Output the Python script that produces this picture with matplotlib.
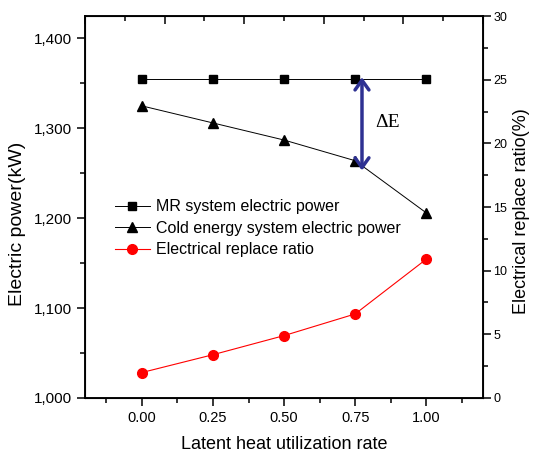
import matplotlib.pyplot as plt
from matplotlib.ticker import FuncFormatter, MultipleLocator

plt.rcParams["font.family"] = ["Liberation Sans", "DejaVu Sans"]

# data
rate = [0.00, 0.25, 0.50, 0.75, 1.00]
mr_power = [1355, 1355, 1355, 1355, 1355]
cold_power = [1325, 1306, 1287, 1264, 1206]
replace_ratio = [2.0, 3.4, 4.9, 6.6, 10.9]
x_ticks = [0.00, 0.25, 0.50, 0.75, 1.00]
x_ticklabels = ["0.00", "0.25", "0.50", "0.75", "1.00"]

fig = plt.figure(figsize=(5.35, 4.55), dpi=100)
ax = fig.add_axes([0.159, 0.1253, 0.744, 0.8395])
ax2 = ax.twinx()

l1, = ax.plot(rate, mr_power, color="black", lw=0.7, marker="s", ms=5.5,
              label="MR system electric power")
l2, = ax.plot(rate, cold_power, color="black", lw=0.7, marker="^", ms=7,
              label="Cold energy system electric power")
l3, = ax2.plot(rate, replace_ratio, color="#ff0000", lw=0.8, marker="o", ms=7,
               label="Electrical replace ratio")

ax.set_xlim(-0.2, 1.2)
ax.set_ylim(1000, 1425)
ax2.set_ylim(0, 30)

ax.set_xticks(x_ticks)
ax.set_xticklabels(x_ticklabels)
ax.xaxis.set_minor_locator(MultipleLocator(0.125))
ax.yaxis.set_major_locator(MultipleLocator(100))
ax.yaxis.set_minor_locator(MultipleLocator(50))
ax.yaxis.set_major_formatter(FuncFormatter(lambda v, p: f"{v:,.0f}"))
ax2.yaxis.set_major_locator(MultipleLocator(5))
ax2.yaxis.set_minor_locator(MultipleLocator(2.5))

for a in (ax, ax2):
    a.tick_params(which="major", length=6, width=1.1, labelsize=11, direction="out")
    a.tick_params(which="minor", length=3.5, width=1.1, direction="out")
    for s in a.spines.values():
        s.set_linewidth(1.1)
ax.tick_params(axis="x", labelsize=10.5)
ax2.tick_params(axis="y", labelsize=9, pad=1.5)

# top axis ticks (pointing into the plot, own spacing)
top = ax.twiny()
top.set_xlim(0, 5)
top.xaxis.set_major_locator(MultipleLocator(1))
top.xaxis.set_minor_locator(MultipleLocator(0.5))
top.tick_params(which="major", length=6, width=1.1, direction="in", labeltop=False)
top.tick_params(which="minor", length=3.5, width=1.1, direction="in")
top.set_xticklabels([])

ax.set_xlabel("Latent heat utilization rate", fontsize=13, labelpad=8)
ax.set_ylabel("Electric power(kW)", fontsize=14)
ax.yaxis.set_label_coords(-0.148, 0.457)
ax2.set_ylabel("Electrical replace ratio(%)", fontsize=13)
ax2.yaxis.set_label_coords(1.075, 0.488)

# delta E arrow
ax.annotate("", xy=(0.774, 1360), xytext=(0.774, 1250),
            arrowprops=dict(arrowstyle="<->,head_length=0.7,head_width=0.5",
                            color="#2e3192", lw=2.5))
ax.text(0.82, 1306, "ΔE", fontsize=14, family=["Liberation Serif", "DejaVu Serif"],
        va="center", ha="left")

ax.legend(handles=[l1, l2, l3], loc="upper left", bbox_to_anchor=(0.075, 0.52),
          frameon=False, fontsize=11.5, handlelength=2.2, handletextpad=0.4,
          labelspacing=0.4, borderpad=0, borderaxespad=0)

fig.savefig("out.png", dpi=100)
